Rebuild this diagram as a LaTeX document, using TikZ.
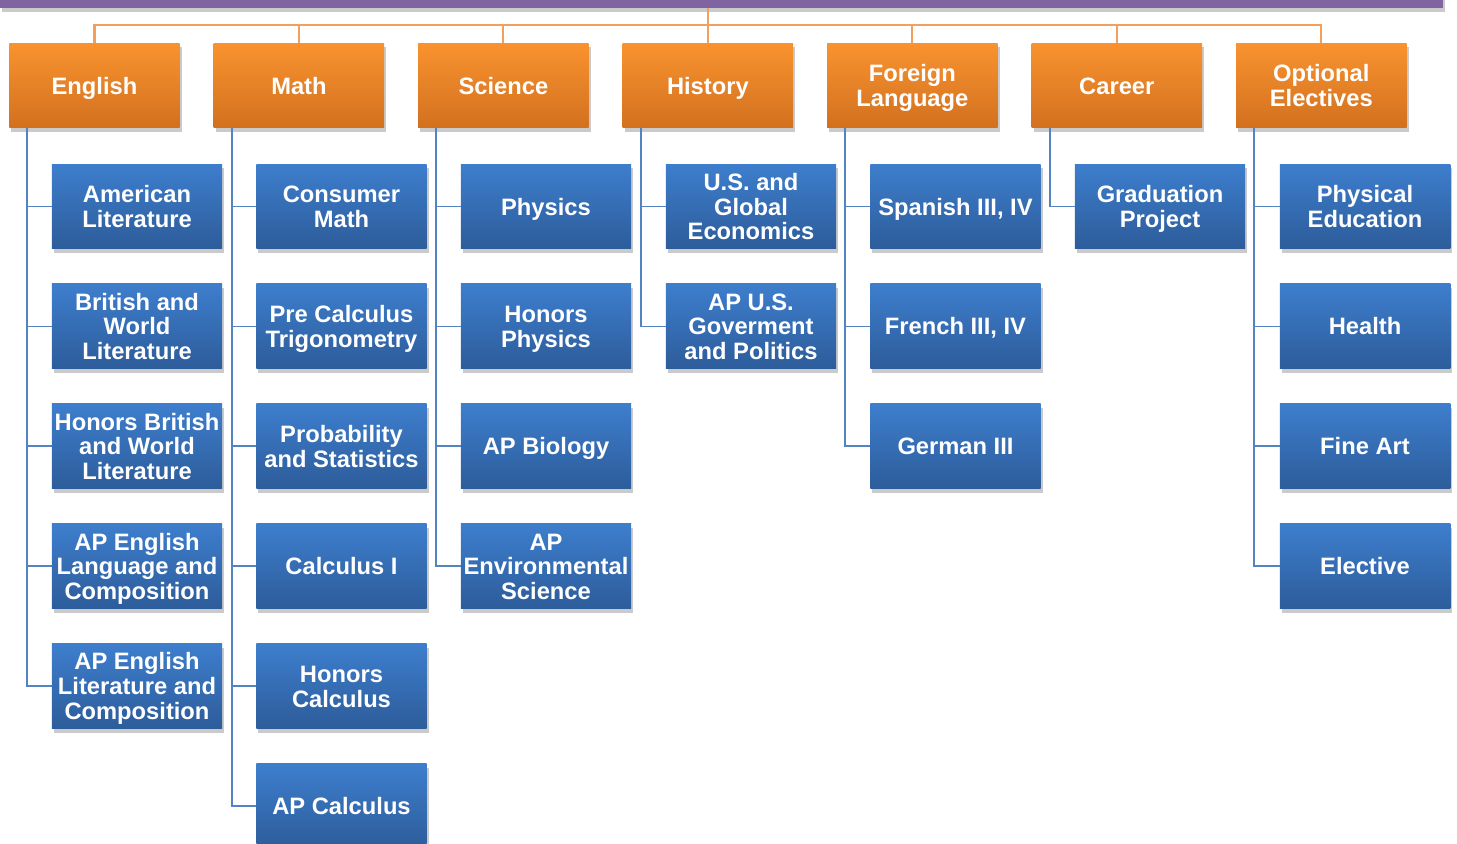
\documentclass[tikz,border=0pt]{standalone}
\usepackage{fontspec}
\setmainfont{Liberation Sans}
\usetikzlibrary{positioning}
\usetikzlibrary{shadows}

\definecolor{subjtop}{HTML}{F9932F}
\definecolor{subjbot}{HTML}{D2701F}
\definecolor{crstop}{HTML}{3D7ECD}
\definecolor{crsbot}{HTML}{2D5C9A}
\definecolor{busline}{HTML}{F2A060}
\definecolor{branchline}{HTML}{5384C2}
\definecolor{titlebar}{HTML}{8064A2}

\begin{document}
\begin{tikzpicture}
		[x=0.02cm, y=-0.02cm,
		 subject/.style={rectangle, top color=subjtop, bottom color=subjbot, text=white,
		   font=\bfseries\fontsize{13.5}{14.2}\selectfont, align=center, inner sep=0pt, outer sep=0pt,
		   execute at begin node=\rule{0pt}{14pt}, execute at end node=\rule[-4.3pt]{0pt}{4.3pt},
		   minimum width=3.41cm, minimum height=1.7cm,
		   drop shadow={shadow xshift=0.4mm, shadow yshift=-0.8mm, opacity=0.35, fill=black!60}},
		 course/.style={subject, top color=crstop, bottom color=crsbot},
		 twolines/.style={execute at begin node=\rule{0pt}{28.2pt}},
		 threelines/.style={execute at begin node=\rule{0pt}{42.4pt}},
		 bus/.style={draw=busline, line width=1.2pt},
		 branch/.style={draw=branchline, line width=1.1pt},
		 node distance=0.7cm and 0.68cm]
		\useasboundingbox (0,0) rectangle (1457,844);
		\node[fill=titlebar, minimum width=28.86cm, minimum height=1.2cm, inner sep=0pt, outer sep=0pt,
		  drop shadow={shadow xshift=0.4mm, shadow yshift=-0.8mm, opacity=0.35, fill=black!60}] (title) at (721.5,-22) {};

		% subjects
		\node[subject] (english) at (94.5,85.5) {English};
		\node[subject, right=of english] (math) {Math};
		\node[subject, right=of math] (science) {Science};
		\node[subject, right=of science] (history) {History};
		\node[subject, twolines, right=of history] (foreign) {Foreign\\Language};
		\node[subject, right=of foreign] (career) {Career};
		\node[subject, twolines, right=of career] (optional) {Optional\\Electives};

		\coordinate (hub) at (history.north |- 0,25);
		\draw[bus] (hub |- title.south) -- (hub);
		\draw[bus] (english.north) -- ++(0,-18) -| (optional.north);
		\foreach \s in {math,science,history,foreign,career}
			\draw[bus] (\s.north) -- (\s.north |- hub);

		% English
		\node[course, twolines] (amlit) at (137,206.5) {American\\Literature};
		\node[course, threelines, below=of amlit] (britlit) {British and\\World\\Literature};
		\node[course, threelines, below=of britlit] (honlit) {Honors British\\and World\\Literature};
		\node[course, threelines, below=of honlit] (aplang) {AP English\\Language and\\Composition};
		\node[course, threelines, below=of aplang] (aplit) {AP English\\Literature and\\Composition};

		% Math
		\node[course, twolines] (consmath) at (341.5,206.5) {Consumer\\Math};
		\node[course, twolines, below=of consmath] (precalc) {Pre Calculus\\Trigonometry};
		\node[course, twolines, below=of precalc] (probstat) {Probability\\and Statistics};
		\node[course, below=of probstat] (calcone) {Calculus I};
		\node[course, twolines, below=of calcone] (honcalc) {Honors\\Calculus};
		\node[course, below=of honcalc] (apcalc) {AP Calculus};

		% Science
		\node[course] (physics) at (546,206.5) {Physics};
		\node[course, twolines, below=of physics] (honphys) {Honors\\Physics};
		\node[course, below=of honphys] (apbio) {AP Biology};
		\node[course, threelines, below=of apbio] (apenv) {AP\\Environmental\\Science};

		% History
		\node[course, threelines] (econ) at (751,206.5) {U.S. and\\Global\\Economics};
		\node[course, threelines, below=of econ] (apgov) {AP U.S.\\Goverment\\and Politics};

		% Foreign language
		\node[course] (spanish) at (955.5,206.5) {Spanish III, IV};
		\node[course, below=of spanish] (french) {French III, IV};
		\node[course, below=of french] (german) {German III};

		% Career
		\node[course, twolines] (gradproj) at (1160,206.5) {Graduation\\Project};

		% Optional electives
		\node[course, twolines] (phyed) at (1365,206.5) {Physical\\Education};
		\node[course, below=of phyed] (health) {Health};
		\node[course, below=of health] (fineart) {Fine Art};
		\node[course, below=of fineart] (elective) {Elective};

		\foreach \c in {amlit,britlit,honlit,aplang,aplit}
			\draw[branch] ([xshift=0.36cm]english.south west) |- (\c.west);
		\foreach \c in {consmath,precalc,probstat,calcone,honcalc,apcalc}
			\draw[branch] ([xshift=0.36cm]math.south west) |- (\c.west);
		\foreach \c in {physics,honphys,apbio,apenv}
			\draw[branch] ([xshift=0.36cm]science.south west) |- (\c.west);
		\foreach \c in {econ,apgov}
			\draw[branch] ([xshift=0.36cm]history.south west) |- (\c.west);
		\foreach \c in {spanish,french,german}
			\draw[branch] ([xshift=0.36cm]foreign.south west) |- (\c.west);
		\draw[branch] ([xshift=0.36cm]career.south west) |- (gradproj.west);
		\foreach \c in {phyed,health,fineart,elective}
			\draw[branch] ([xshift=0.36cm]optional.south west) |- (\c.west);
	\end{tikzpicture}
\end{document}
